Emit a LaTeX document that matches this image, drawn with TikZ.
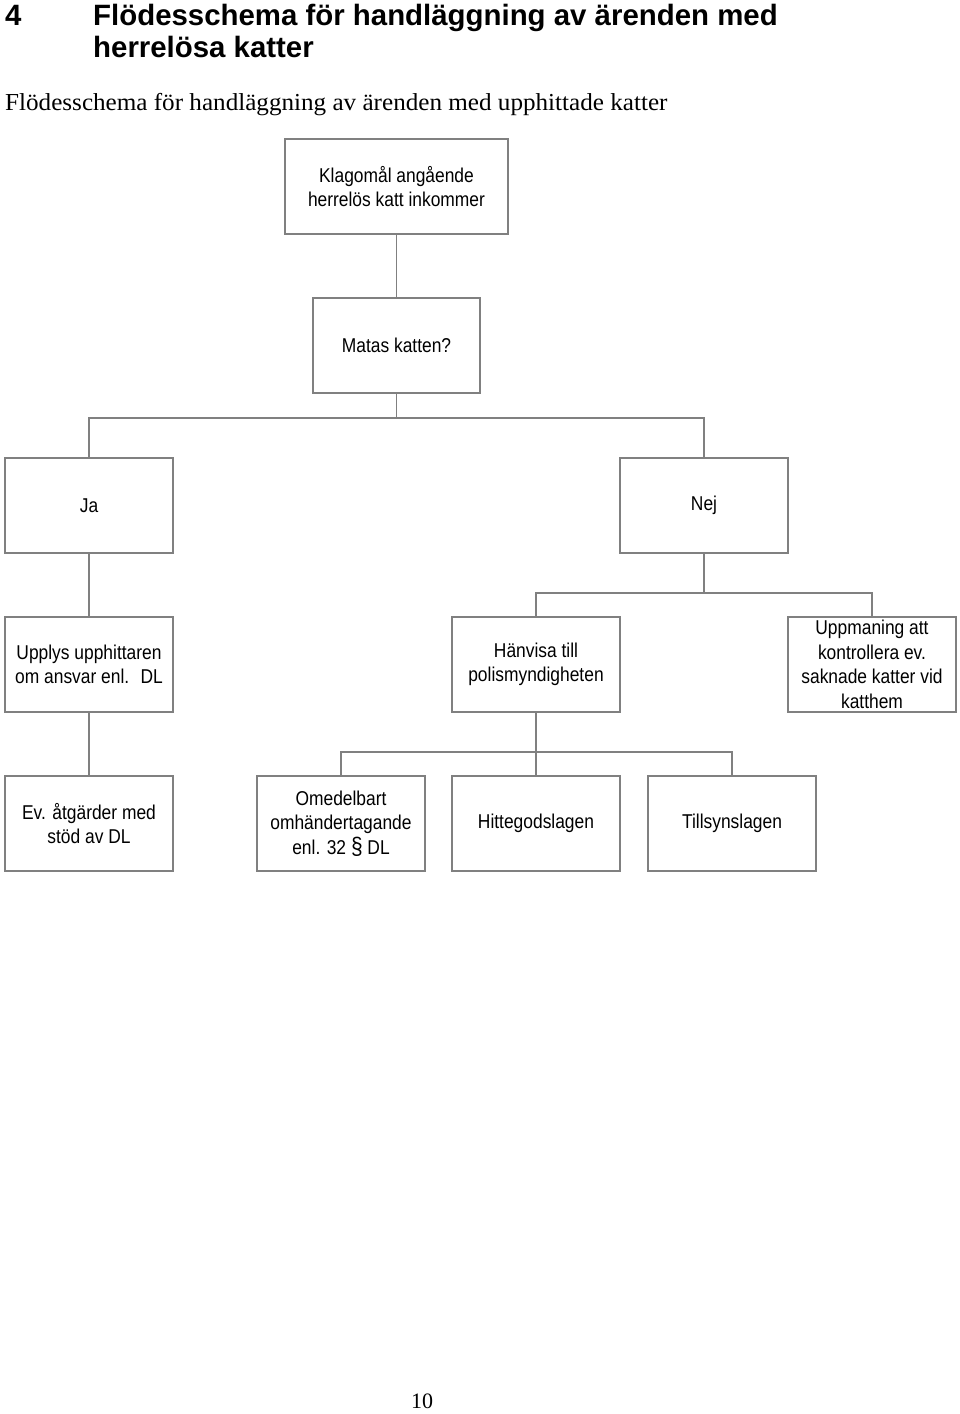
\documentclass[tikz,border=0pt]{standalone}
\usepackage{fontspec}
\setmainfont{Liberation Serif}
\newfontfamily\boxfont[FakeStretch=0.87]{Liberation Sans}
\newfontfamily\headfont{Liberation Sans}
\newfontfamily\subfont[FakeStretch=1.03]{Liberation Serif}
\definecolor{boxgray}{RGB}{128,128,128}
\begin{document}
\begin{tikzpicture}[x=1pt,y=-1pt,
  box/.style={draw=boxgray, line width=1.2pt, minimum width=168pt, minimum height=95pt, align=center, inner sep=0pt, font=\boxfont\fontsize{20}{24.5}\selectfont},
  conn/.style={draw=boxgray, line width=1.2pt},
  head/.style={anchor=base west, inner sep=0pt, font=\headfont\bfseries\fontsize{29.4}{33}\selectfont},
  sub/.style={anchor=base west, inner sep=0pt, font=\subfont\fontsize{24.4}{28}\selectfont}]
\useasboundingbox (0,0) rectangle (960,1414);
% headings
\node[head] (h4) at (5,25) {4};
\node[head] (h1) at (93,25) {Flödesschema för handläggning av ärenden med};
\node[head] (h2) at (93,57) {herrelösa katter};
\node[sub] (subt) at (5,110) {Flödesschema för handläggning av ärenden med upphittade katter};
% boxes
\node[box, minimum width=223pt] (klag) at (396.5,186.5) {Klagomål angående\\herrelös katt inkommer};
\node[box, minimum width=167pt] (matas) at (396.5,345.5) {Matas katten?};
\node[box] (ja) at (89,505.5) {Ja};
\node[box] (nej) at (704,505.5) {Nej};
\node[box] (upplys) at (89,664.5) {Upplys upphittaren\\om ansvar enl.~ DL};
\node[box] (hanvisa) at (536,664.5) {Hänvisa till\\polismyndigheten};
\node[box] (uppm) at (872,664.5) {Uppmaning att\\kontrollera ev.\\saknade katter vid\\katthem};
\node[box] (ev) at (89,823.5) {Ev. åtgärder med\\stöd av DL};
\node[box] (omed) at (341,823.5) {Omedelbart\\omhändertagande\\enl. 32 {\fontsize{24}{24.5}\selectfont §} DL};
\node[box] (hitte) at (536,823.5) {Hittegodslagen};
\node[box] (tills) at (732,823.5) {Tillsynslagen};
% junctions
\coordinate (j1) at (396.5,418);
\coordinate (j2) at (704,593);
\coordinate (j3) at (536,752);
% connectors
\draw[conn] (klag) -- (matas);
\draw[conn] (matas.south) -- (j1);
\draw[conn] (ja.north) |- (j1) -| (nej.north);
\draw[conn] (ja) -- (upplys);
\draw[conn] (upplys) -- (ev);
\draw[conn] (nej.south) -- (j2);
\draw[conn] (hanvisa.north) |- (j2) -| (uppm.north);
\draw[conn] (hanvisa) -- (hitte);
\draw[conn] (omed.north) |- (j3) -| (tills.north);
% page number
\node[anchor=base, inner sep=0pt, font=\fontsize{22}{24}\selectfont] (pnum) at (422,1408) {10};
\end{tikzpicture}
\end{document}
